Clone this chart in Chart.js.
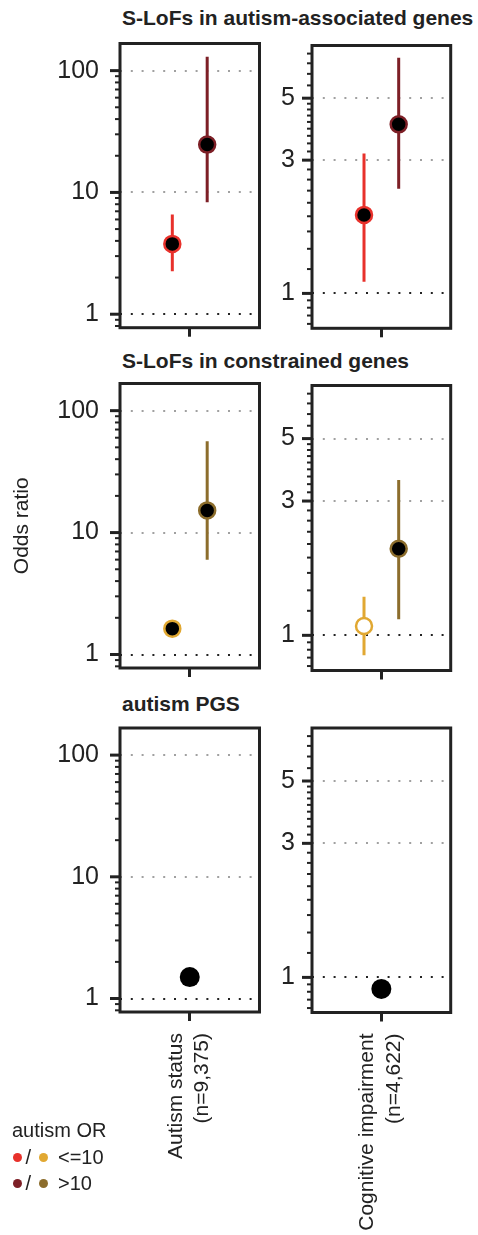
<!DOCTYPE html>
<html>
<head>
<meta charset="utf-8">
<script src="https://cdn.jsdelivr.net/npm/chart.js@4.4.0/dist/chart.umd.min.js"></script>
<style>
  body { margin: 0; background: #fff; }
  #page { position: relative; width: 478px; height: 1235px; overflow: hidden;
          font-family: 'Liberation Sans', Arial, Helvetica, sans-serif; color: #222; }
  #page canvas { position: absolute; }
  .row-title { position: absolute; left: 122px; font-weight: bold; font-size: 21px;
               line-height: 20px; white-space: nowrap; }
  .lg { position: absolute; font-size: 20px; line-height: 20px; white-space: nowrap; }
  .dot { position: absolute; width: 9px; height: 9px; border-radius: 50%; }
</style>
</head>
<body>
<div id="page"></div>
<script>
// row titles and outcome labels
var rowTitles = ['S-LoFs in autism-associated genes', 'S-LoFs in constrained genes', 'autism PGS'];
var outcomeLabels = [['Autism status', '(n=9,375)'], ['Cognitive impairment', '(n=4,622)']];
var groupNames = ['<=10', '>10'];

// odds ratios, one value per outcome [autism status, cognitive impairment]
var asdGenesLow = [3.78, 1.91];
var asdGenesLowCI = [[2.25, 6.6], [1.10, 3.17]];
var asdGenesHigh = [24.7, 4.03];
var asdGenesHighCI = [[8.3, 130], [2.37, 6.98]];

var constrLow = [1.63, 1.08];
var constrLowCI = [[1.47, 1.81], [0.85, 1.37]];
var constrHigh = [15.2, 2.03];
var constrHighCI = [[6.0, 56], [1.14, 3.56]];

var pgsOR = [1.5, 0.91];
var pgsCI = [[1.44, 1.57], [0.88, 0.94]];

// y tick values
var leftLabelled = [1, 10, 100];
var rightLabelled = [1, 3, 5];
var rightBreaks = [0.5, 1, 3, 5, 10];

var redLow = '#e8312b', redHigh = '#7d1f26';
var goldLow = '#e1a832', goldHigh = '#8c6d2c';
var ink = '#222';
var fontFam = "'Liberation Sans', Arial, Helvetica, sans-serif";

var leftRange = [0.775, 167];
var rightRange = [0.75, 7.72];

var page = document.getElementById('page');

function leftTicks() {
  var out = [0.8, 0.9];
  for (var d = 1; d <= 10; d *= 10) {
    for (var k = 1; k < 10; k++) out.push(k * d);
  }
  out.push(100);
  return out;
}

function rightTicks() {
  var out = [];
  for (var b = 0; b < rightBreaks.length - 1; b++) {
    var step = (rightBreaks[b + 1] - rightBreaks[b]) / 9;
    for (var k = 0; k < 9; k++) out.push(rightBreaks[b] + k * step);
  }
  return out.filter(function (v) { return v >= rightRange[0] && v <= rightRange[1]; });
}

function isLabelled(v, list) {
  for (var i = 0; i < list.length; i++) {
    if (Math.abs(v - list[i]) < 1e-6) return true;
  }
  return false;
}

function pointFill(ci) {
  return (ci[0] > 1 || ci[1] < 1) ? '#000' : '#fff';
}

function buildSets(ors, cis, colors, xs, radius, bw) {
  var sets = [];
  for (var i = 0; i < ors.length; i++) {
    sets.push({
      data: [{x: xs[i], y: cis[i][0]}, {x: xs[i], y: cis[i][1]}],
      showLine: true, borderColor: colors[i], borderWidth: 3, pointRadius: 0, order: 2
    });
    sets.push({
      data: [{x: xs[i], y: ors[i]}],
      pointRadius: radius, borderWidth: bw, borderColor: colors[i],
      backgroundColor: pointFill(cis[i]), order: 1
    });
  }
  return sets;
}

// box + y tick marks
var framePlugin = {
  id: 'frame',
  afterDraw: function (chart) {
    var a = chart.chartArea, ctx = chart.ctx, ys = chart.scales.y;
    var labelled = chart.options.labelledTicks;
    ctx.save();
    ctx.strokeStyle = ink;
    ys.ticks.forEach(function (t) {
      var py = ys.getPixelForValue(t.value);
      var big = isLabelled(t.value, labelled);
      ctx.lineWidth = big ? 3 : 2;
      ctx.beginPath();
      ctx.moveTo(a.left - (big ? 10 : 5), py);
      ctx.lineTo(a.left, py);
      ctx.stroke();
    });
    ctx.lineWidth = 3;
    ctx.strokeRect(a.left, a.top, a.right - a.left, a.bottom - a.top);
    ctx.restore();
  }
};

// plot box top/bottom for each row, per column
var boxesLeft = [[41.7, 327.7], [381.5, 668], [726, 1012]];
var boxesRight = [[43, 328.3], [383.5, 670.5], [726.5, 1012.5]];

function makePanel(row, col) {
  var isLeft = col === 0;
  var box = isLeft ? boxesLeft[row] : boxesRight[row];
  var cLeft = isLeft ? 0 : 270;
  var cWidth = isLeft ? 270 : 208;
  var axisW = isLeft ? 120 : 42;
  var padRight = isLeft ? 10.5 : 27.3;
  var cTop = Math.floor(box[0]) - 8;
  var bottomRow = row === 2;
  var cBottom = bottomRow ? 1235 : Math.ceil(box[1]) + 14;
  var cHeight = cBottom - cTop;
  var xAxisH = cBottom - box[1];

  var canvas = document.createElement('canvas');
  canvas.width = cWidth;
  canvas.height = cHeight;
  canvas.style.left = cLeft + 'px';
  canvas.style.top = cTop + 'px';
  page.appendChild(canvas);

  var sets;
  if (row === 0) {
    sets = buildSets([asdGenesLow[col], asdGenesHigh[col]],
      [asdGenesLowCI[col], asdGenesHighCI[col]], [redLow, redHigh], [-0.25, 0.25], 8, 2.5);
  } else if (row === 1) {
    sets = buildSets([constrLow[col], constrHigh[col]],
      [constrLowCI[col], constrHighCI[col]], [goldLow, goldHigh], [-0.25, 0.25], 8, 2.5);
  } else {
    sets = buildSets([pgsOR[col]], [pgsCI[col]], ['#000'], [0], 10, 0);
  }

  var range = isLeft ? leftRange : rightRange;
  var tickVals = isLeft ? leftTicks() : rightTicks();
  var labelled = isLeft ? leftLabelled : rightLabelled;

  new Chart(canvas, {
    type: 'scatter',
    data: { datasets: sets },
    plugins: [framePlugin],
    options: {
      labelledTicks: labelled,
      responsive: false,
      animation: false,
      events: [],
      layout: { padding: { top: box[0] - cTop, right: padRight, left: 0, bottom: 0 } },
      plugins: { legend: { display: false }, tooltip: { enabled: false } },
      scales: {
        x: {
          type: 'linear', min: -1, max: 1,
          afterBuildTicks: function (s) { s.ticks = [{value: 0}]; },
          afterFit: function (s) {
            s.height = xAxisH;
            s.paddingLeft = 0; s.paddingRight = 0;
          },
          border: { display: false },
          grid: { drawOnChartArea: false, drawTicks: true, tickLength: 9, tickWidth: 3,
                  tickColor: ink, color: 'rgba(0,0,0,0)' },
          ticks: {
            display: bottomRow, autoSkip: false, minRotation: 90, maxRotation: 90,
            padding: 12, labelOffset: -14, color: ink,
            font: { family: fontFam, size: 21, lineHeight: 1.27 },
            callback: function () { return outcomeLabels[col]; }
          }
        },
        y: {
          type: 'logarithmic', min: range[0], max: range[1],
          afterBuildTicks: function (s) {
            s.ticks = tickVals.map(function (v) { return {value: v}; });
          },
          afterFit: function (s) {
            s.width = axisW;
            s.paddingTop = 0; s.paddingBottom = 0;
          },
          border: { display: false, dash: [2, 8.8] },
          grid: {
            drawTicks: false, lineWidth: 2,
            color: function (c) {
              if (!c.tick) return 'rgba(0,0,0,0)';
              if (Math.abs(c.tick.value - 1) < 1e-6) return ink;
              return isLabelled(c.tick.value, labelled) ? '#a0a0a0' : 'rgba(0,0,0,0)';
            }
          },
          ticks: {
            autoSkip: false, padding: isLeft ? 21 : 17, color: ink,
            font: { family: fontFam, size: 25 },
            callback: function (v) { return isLabelled(v, labelled) ? String(v) : ''; }
          },
          title: {
            display: row === 1 && isLeft, text: 'Odds ratio', color: ink,
            font: { family: fontFam, size: 21 }, padding: { top: 10, bottom: 0 }
          }
        }
      }
    }
  });
}

// row titles
var titleTops = [8, 351, 694];
rowTitles.forEach(function (t, i) {
  var d = document.createElement('div');
  d.className = 'row-title';
  d.style.top = titleTops[i] + 'px';
  d.textContent = t;
  page.appendChild(d);
});

for (var r = 0; r < 3; r++) {
  makePanel(r, 0);
  makePanel(r, 1);
}

// legend
function addText(txt, left, top) {
  var d = document.createElement('div');
  d.className = 'lg';
  d.style.left = left + 'px';
  d.style.top = top + 'px';
  d.textContent = txt;
  page.appendChild(d);
}
function addDot(color, cx, cy) {
  var d = document.createElement('div');
  d.className = 'dot';
  d.style.background = color;
  d.style.left = (cx - 4.5) + 'px';
  d.style.top = (cy - 4.5) + 'px';
  page.appendChild(d);
}
addText('autism OR', 12, 1120);
var legendColors = [[redLow, goldLow], [redHigh, goldHigh]];
var legendY = [1157, 1183];
groupNames.forEach(function (g, i) {
  addDot(legendColors[i][0], 17.3, legendY[i]);
  addText('/', 25.5, legendY[i] - 10);
  addDot(legendColors[i][1], 43.3, legendY[i]);
  addText(g, 58, legendY[i] - 10);
});
</script>
</body>
</html>
